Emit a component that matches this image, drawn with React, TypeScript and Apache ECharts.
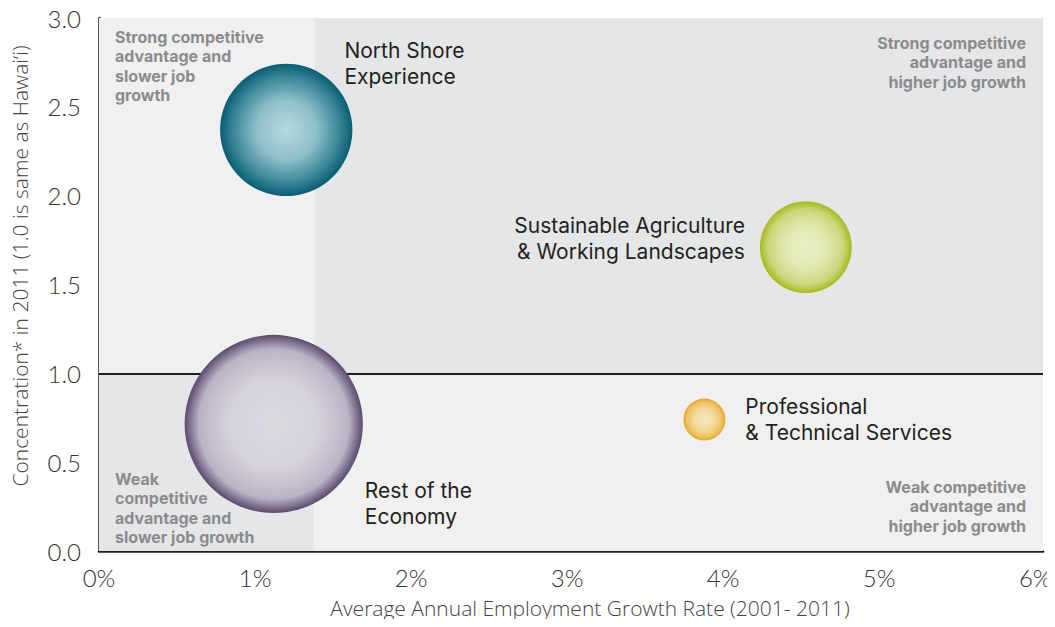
import React, { useEffect, useRef } from "react";
import * as echarts from "echarts";

// ---- data ----
const clusterNames = [
  "North Shore\nExperience",
  "Sustainable Agriculture\n& Working Landscapes",
  "Professional\n& Technical Services",
  "Rest of the\nEconomy",
];
const growthRate = [1.2, 4.53, 3.88, 1.12]; // % per year
const concentration = [2.37, 1.71, 0.74, 0.715];
const employment = [5400, 2600, 540, 9800]; // bubble size
const xTicks = [0, 1, 2, 3, 4, 5, 6];
const yTicks = [0, 0.5, 1, 1.5, 2, 2.5, 3];
const growthSplit = 1.38; // quadrant divider (%)
const concentrationSplit = 1.0;

// ---- styles ----
const bubbleStops = [
  [
    [0, "#b6d9e0"],
    [0.45, "#8fbfca"],
    [0.8, "#3a8699"],
    [1, "#0a5d72"],
  ],
  [
    [0, "#e9eec6"],
    [0.45, "#e3e9b2"],
    [0.82, "#cad67a"],
    [1, "#a8b91c"],
  ],
  [
    [0, "#f7e5bb"],
    [0.45, "#f5dca4"],
    [0.82, "#eec266"],
    [1, "#e4a82a"],
  ],
  [
    [0, "#dcd9e1"],
    [0.5, "#d6d2dc"],
    [0.84, "#bbb3c5"],
    [1, "#5a4b6e"],
  ],
];
const labelPlacement = [
  { position: "right", offset: [-13, -66], align: "left" },
  { position: "left", offset: [-10, -9], align: "right" },
  { position: "right", offset: [15, 0], align: "left" },
  { position: "right", offset: [-3, 80], align: "left" },
];
const FONT = "Lato, 'Open Sans', sans-serif";
const LABEL_FONT = "Inter, Lato, sans-serif";
const TITLE_FONT = "'Open Sans', Lato, sans-serif";
const LIGHT = "#f0f0f0";
const DARK = "#e5e6e8";
const QUAD_TEXT = "#8b8b8d";

export default function App() {
  const ref = useRef<HTMLDivElement>(null);
  useEffect(() => {
    if (!ref.current) return;
    const chart = echarts.init(ref.current, undefined, { renderer: "svg" });
    const bubbles = clusterNames.map((name, i) => ({
      name,
      value: [growthRate[i], concentration[i], employment[i]],
      itemStyle: {
        color: new echarts.graphic.RadialGradient(
          0.5,
          0.5,
          0.5,
          bubbleStops[i].map(([offset, color]) => ({ offset, color }))
        ),
        opacity: 1,
      },
      label: {
        show: true,
        formatter: name,
        position: labelPlacement[i].position,
        offset: labelPlacement[i].offset,
        align: labelPlacement[i].align,
        color: "#231f20",
        fontSize: 21,
        lineHeight: 26,
        fontFamily: LABEL_FONT,
      },
    }));
    const xMax = 6.05;
    const yMax = 3;
    const quadText = (text: string, x: number, y: number, align: string) => ({
      type: "text",
      x,
      y,
      z: 100,
      style: {
        text,
        fill: QUAD_TEXT,
        font: `bold 16px ${LABEL_FONT}`,
        lineHeight: 19.5,
        align,
      },
    });
    chart.setOption({
      animation: false,
      grid: { left: 99, right: 12, top: 18, bottom: 76, containLabel: false },
      xAxis: {
        type: "value",
        min: 0,
        max: xMax,
        interval: 1,
        axisLine: { show: true, lineStyle: { color: "#231f20", width: 2.5 } },
        axisTick: { show: false },
        splitLine: { show: false },
        axisLabel: {
          color: "#333",
          fontSize: 24,
          fontFamily: FONT,
          fontWeight: 300,
          margin: 14,
          formatter: (v: number) => (xTicks.includes(v) ? `${v}%` : ""),
        },
      },
      yAxis: {
        type: "value",
        min: 0,
        max: yMax,
        interval: 0.5,
        axisLine: { show: true, lineStyle: { color: "#231f20", width: 2.5 } },
        axisTick: { show: false },
        splitLine: { show: true, lineStyle: { color: "#a9a9a9", type: [4, 3], width: 1 } },
        axisLabel: {
          color: "#333",
          fontSize: 24,
          fontFamily: FONT,
          fontWeight: 300,
          margin: 18,
          formatter: (v: number) => (yTicks.includes(v) ? v.toFixed(1) : ""),
        },
      },
      series: [
        {
          type: "line",
          data: [],
          z: 1,
          silent: true,
          markArea: {
            silent: true,
            data: [
              [{ coord: [0, concentrationSplit], itemStyle: { color: LIGHT } }, { coord: [growthSplit, yMax] }],
              [{ coord: [growthSplit, concentrationSplit], itemStyle: { color: DARK } }, { coord: [xMax, yMax] }],
              [{ coord: [0, 0], itemStyle: { color: DARK } }, { coord: [growthSplit, concentrationSplit] }],
              [{ coord: [growthSplit, 0], itemStyle: { color: LIGHT } }, { coord: [xMax, concentrationSplit] }],
            ],
          },
          markLine: {
            silent: true,
            symbol: "none",
            label: { show: false },
            lineStyle: { color: "#231f20", width: 2, type: "solid" },
            data: [{ yAxis: concentrationSplit }],
          },
        },
        {
          type: "scatter",
          z: 5,
          data: bubbles,
          symbolSize: (v: number[]) => Math.sqrt(v[2]) * 1.8,
        },
      ],
      graphic: [
        quadText("Strong competitive\nadvantage and\nslower job\ngrowth", 115, 27, "left"),
        quadText("Strong competitive\nadvantage and\nhigher job growth", 1026, 33, "right"),
        quadText("Weak\ncompetitive\nadvantage and\nslower job growth", 115, 469, "left"),
        quadText("Weak competitive\nadvantage and\nhigher job growth", 1026, 477, "right"),
        {
          type: "text",
          x: 20,
          y: 266,
          rotation: Math.PI / 2,
          z: 100,
          style: {
            text: "Concentration* in 2011 (1.0 is same as Hawai\u2018i)",
            fill: "#444",
            font: `300 21px ${TITLE_FONT}`,
            align: "center",
            verticalAlign: "middle",
          },
        },
        {
          type: "text",
          x: 590,
          y: 608,
          z: 100,
          style: {
            text: "Average Annual Employment Growth Rate (2001- 2011)",
            fill: "#444",
            font: `300 21px ${TITLE_FONT}`,
            align: "center",
            verticalAlign: "middle",
          },
        },
      ],
    });
    return () => chart.dispose();
  }, []);
  return <div ref={ref} style={{ width: 1055, height: 627, margin: -8 }} />;
}
